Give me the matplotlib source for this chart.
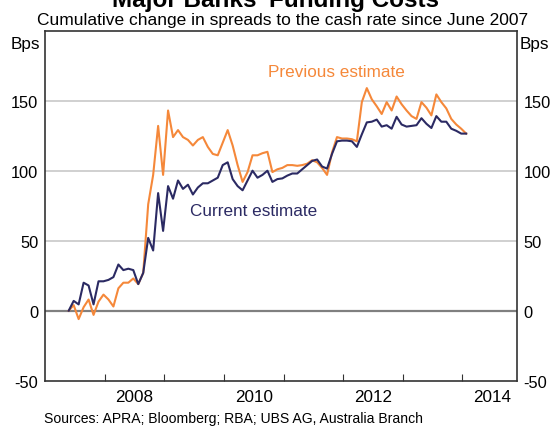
import numpy as np
import matplotlib
matplotlib.use("Agg")
import matplotlib.pyplot as plt

plt.rcParams['font.family'] = ['Liberation Sans', 'DejaVu Sans']

# monthly observations, June 2007 onwards (bps)
current = [0, 7, 4.5, 20, 18, 4.5, 21, 21, 22, 24,
           33, 29, 30, 29, 19, 27, 52, 43, 84, 57,
           89, 80, 93, 87, 90, 83, 88, 91, 91, 93,
           95, 104, 106, 94, 89, 86, 93, 100, 95, 97,
           100, 92, 94, 94.5, 96.5, 98, 98, 101, 104, 107,
           108, 103, 101.5, 112, 121, 121.5, 121.5, 121, 117, 126,
           134.5, 135, 136.5, 131.5, 132.5, 130, 138.5, 133, 131.5, 132,
           132.5, 137.5, 133.5, 130.5, 139, 135, 135, 130, 128.5, 126.5,
           126.5]
previous = [0, 4, -6, 2.5, 8, -3, 6.5, 11.5, 8, 3,
            16, 20, 20, 23, 19, 27, 76, 97, 132, 97,
            143, 124, 129, 124, 122, 118, 122, 124, 117, 112,
            111, 120, 129, 118, 104, 92, 99, 111, 111, 112.5,
            113.5, 99, 101, 102, 104, 104, 103.5, 104, 105, 107.5,
            106, 102, 97, 113, 124, 123, 123, 122.5, 121, 149,
            159, 151, 146, 140.5, 149, 143, 153, 147.5, 143, 139,
            137, 149, 145, 139.5, 154.5, 149, 144.5, 137, 133, 130,
            126.5]
year_ticks = [2008, 2009, 2010, 2011, 2012, 2013, 2014]
year_labels = ['2008', '2010', '2012', '2014']
y_ticks = [-50, 0, 50, 100, 150]

months = np.arange(len(current))
x = 2007 + (months + 4.75) / 12

navy = '#2b2a63'
orange = '#f5883a'

fig = plt.figure(figsize=(5.51, 4.27), dpi=100)
ax = fig.add_axes([45.1 / 551, 1 - 381.7 / 427, (516.7 - 45.1) / 551, 350 / 427])

for v in [50, 100, 150]:
    ax.axhline(v, color='#c8c8c8', lw=1.2, zorder=1)
ax.axhline(0, color='#808080', lw=1.6, zorder=1)

ax.plot(x, previous, color=orange, lw=1.5, zorder=3)
ax.plot(x, current, color=navy, lw=1.5, zorder=4)

ax.set_xlim(2007, 2014.91)
ax.set_ylim(-50, 200)

ax.set_xticks(year_ticks)
ax.set_xticklabels([])
ax.set_xticks([int(s) + 0.5 for s in year_labels], minor=True)
ax.set_xticklabels(year_labels, minor=True)
ax.tick_params(axis='x', which='major', direction='in', length=5, width=0.8, color='#333333')
ax.tick_params(axis='x', which='minor', length=0, labelsize=12.3, pad=6)

ax.set_yticks(y_ticks)
ax.set_yticklabels([str(t) for t in y_ticks])
ax.tick_params(axis='y', left=False, right=False, labelleft=True, labelright=True,
               labelsize=11.8, pad=1.5)

for s in ax.spines.values():
    s.set_color('#333333')
    s.set_linewidth(1.2)

ax.text(2011.88, 170.5, 'Previous estimate', color=orange, fontsize=12.3,
        ha='center', va='center')
ax.text(2010.5, 71.5, 'Current estimate', color=navy, fontsize=12.3,
        ha='center', va='center')

fig.text(0.5, 1 - 7 / 427, "Major Banks' Funding Costs", ha='center', va='baseline',
         fontsize=17.5, fontweight='bold')
fig.text(0.512, 1 - 25 / 427, 'Cumulative change in spreads to the cash rate since June 2007',
         ha='center', va='baseline', fontsize=12.5)
fig.text(40 / 551, 1 - 45 / 427, 'Bps', ha='right', va='center', fontsize=12.3)
fig.text(520 / 551, 1 - 45 / 427, 'Bps', ha='left', va='center', fontsize=12.3)
fig.text(44 / 551, 1 - 419 / 427, 'Sources: APRA; Bloomberg; RBA; UBS AG, Australia Branch',
         ha='left', va='center', fontsize=10.1)

fig.savefig('out.png', dpi=100)
